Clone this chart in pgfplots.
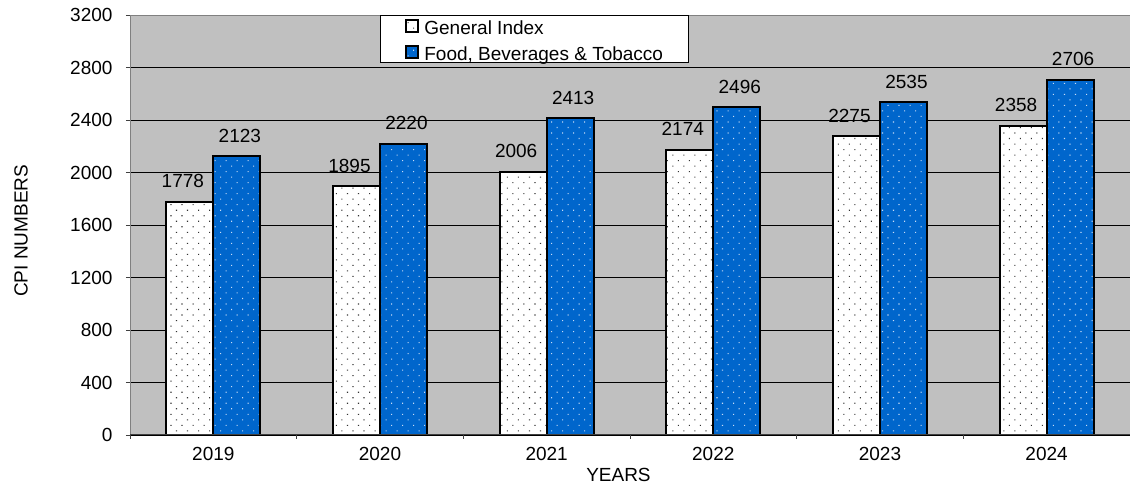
\documentclass[border=0pt]{standalone}
\usepackage{pgfplots}
\pgfplotsset{compat=1.18}
\usepackage{fontspec}
\setmainfont{Liberation Sans}
\usetikzlibrary{patterns.meta}

\definecolor{plotgray}{HTML}{C0C0C0}
\definecolor{barblue}{HTML}{0066CC}
\definecolor{framegray}{HTML}{808080}
\definecolor{axisdark}{HTML}{404040}
\definecolor{dotblue}{HTML}{C8DCF4}

\pgfplotsset{sqlegend/.style={legend image code/.code={%
  \draw[##1] (0pt,-6pt) rectangle (12pt,6pt); \path (17pt,0pt);}}}

\begin{document}
\begin{tikzpicture}
\begin{axis}[
  at={(0pt,0pt)}, anchor=south west,
  scale only axis, width=1000pt, height=420pt,
  font=\fontsize{19}{22}\selectfont,
  /pgf/number format/assume math mode=true,
  /pgf/number format/1000 sep={},
  scaled y ticks=false,
  ybar=0pt, bar width=47pt,
  xmin=-0.5, xmax=5.5, ymin=0, ymax=3200,
  ytick={0,400,...,3200},
  xtick={-0.5,0.5,...,5.5}, xticklabels={},
  extra x ticks={0,1,2,3,4,5},
  extra x tick labels={2019,2020,2021,2022,2023,2024},
  extra x tick style={major tick length=0pt},
  xtick pos=bottom, ytick pos=left,
  ymajorgrids, grid style={black, line width=0.8pt},
  axis line style={draw=none},
  tick align=outside, major tick length=4pt,
  tick style={axisdark, line width=0.8pt},
  axis background/.style={fill=plotgray},
  yticklabel style={anchor=east, xshift=-10pt},
  xticklabel style={anchor=base, yshift=-26pt},
  ylabel={CPI NUMBERS},
  ylabel style={at={(axis description cs:-0.109,0.486)}, anchor=center, rotate=0},
  xlabel={YEARS},
  xlabel style={at={(axis description cs:0.4885,-0.1119)}, anchor=base},
  nodes near coords,
  every node near coord/.append style={font=\fontsize{19}{22}\selectfont, anchor=south, inner sep=0pt, yshift=13pt, black},
  legend style={at={(0.25,1)}, anchor=north west, draw=black, line width=0.8pt, fill=white,
    inner xsep=25pt, inner ysep=0.5pt, row sep=6pt,
    nodes={inner xsep=0pt, inner ysep=1pt, text height=18pt, text depth=0pt},
    font=\fontsize{19}{22}\selectfont},
  legend cell align=left,
]
\addplot[draw=black, line width=2pt, preaction={fill=white},
  pattern={Dots[distance=7.8pt, angle=45, radius=0.75pt]}, pattern color=black!80,
  every node near coord/.append style={xshift=-7pt}, sqlegend]
  coordinates {(0,1778) (1,1895) (2,2006) (3,2174) (4,2275) (5,2358)};
\addlegendentry{General Index}
\addplot[draw=black, line width=2pt, preaction={fill=barblue},
  pattern={Dots[distance=7.8pt, angle=45, radius=0.75pt]}, pattern color=dotblue,
  every node near coord/.append style={xshift=3pt}, sqlegend]
  coordinates {(0,2123) (1,2220) (2,2413) (3,2496) (4,2535) (5,2706)};
\addlegendentry{Food, Beverages \& Tobacco\hspace{9pt}}
\draw[framegray, line width=0.8pt] (rel axis cs:0,1) -- (rel axis cs:1,1);
\draw[framegray, line width=0.8pt] (rel axis cs:0,0) -- (rel axis cs:0,1);
\draw[axisdark, line width=1.5pt] (rel axis cs:0,0) -- (rel axis cs:1,0);
\end{axis}
\pgfresetboundingbox
\path (-130pt,-51pt) rectangle (1000pt,435pt);
\end{tikzpicture}
\end{document}
